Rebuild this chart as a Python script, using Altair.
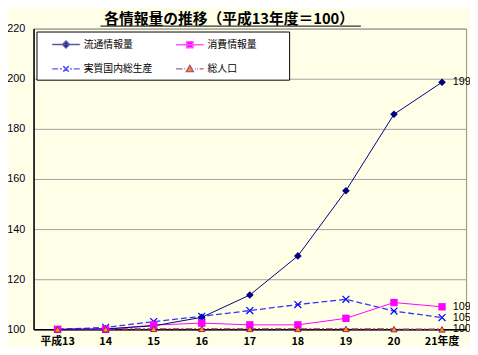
import altair as alt
import pandas as pd

years = ["平成13", "14", "15", "16", "17", "18", "19", "20", "21年度"]
series = ["流通情報量", "消費情報量", "実質国内総生産", "総人口"]
ryutsu = [100, 100.2, 101.4, 104.8, 113.7, 129.3, 155.3, 185.8, 198.6]
shohi = [100, 100, 101.7, 102.5, 101.8, 101.8, 104.4, 110.7, 109.0]
gdp = [100, 100.8, 103.1, 105.2, 107.5, 109.9, 112.0, 107.3, 104.7]
jinko = [100, 100.1, 100.2, 100.2, 100.2, 100.2, 100.2, 100.1, 100.0]
end_labels = ["199", "109", "105", "100"]
y_ticks = [100, 120, 140, 160, 180, 200, 220]
title_text = "各情報量の推移（平成13年度＝100）"

values = [ryutsu, shohi, gdp, jinko]
rows = []
for s, vals in zip(series, values):
    for y, v in zip(years, vals):
        rows.append({"year": y, "series": s, "value": v})
df = pd.DataFrame(rows)
end_df = pd.DataFrame({
    "year": [years[-1]] * len(series),
    "series": series,
    "value": [v[-1] for v in values],
    "label": end_labels,
})

JP = "Noto Sans CJK JP"
LAT = "Liberation Sans"

x_enc = alt.X(
    "year:N", sort=years,
    scale=alt.Scale(type="band", paddingInner=0, paddingOuter=0),
    axis=alt.Axis(title=None, labelAngle=0, tickSize=0, labelPadding=6,
                  labelFont=JP, labelFontSize=11, labelFontWeight="bold",
                  labelColor="black", domainColor="black", domainWidth=1.5,
                  grid=False),
)
y_enc = alt.Y(
    "value:Q",
    scale=alt.Scale(domain=[100, 220], nice=False, zero=False),
    axis=alt.Axis(title=None, values=y_ticks, tickSize=0, labelPadding=9,
                  labelFont=LAT, labelFontSize=11, labelColor="#000022",
                  domainColor="black", domainWidth=1.5,
                  grid=True, gridColor="#A0A0A0", gridWidth=1),
)

line_styles = {
    "流通情報量": dict(stroke="#000080", strokeWidth=1),
    "消費情報量": dict(stroke="#FF00FF", strokeWidth=1),
    "実質国内総生産": dict(stroke="#3333FF", strokeWidth=1.3, strokeDash=[6, 3]),
    "総人口": dict(stroke="#993366", strokeWidth=1.5, strokeDash=[7, 2, 2, 2]),
}
x_path = "M-1,-1L1,1M-1,1L1,-1"
marker_styles = {
    "流通情報量": dict(shape="diamond", filled=True, color="#000080", size=60),
    "実質国内総生産": dict(shape=x_path, filled=False, stroke="#0000FF", strokeWidth=1.2, size=49),
    "消費情報量": dict(shape="square", filled=True, color="#FF00FF", size=56),
    "総人口": dict(shape="triangle-up", filled=True, fill="#FF9900", stroke="#800080",
                 strokeWidth=0.8, size=42),
}

base = alt.Chart(df)
layers = []
for s in ["総人口", "実質国内総生産", "消費情報量", "流通情報量"]:
    layers.append(
        base.transform_filter(alt.datum.series == s)
        .mark_line(**line_styles[s])
        .encode(x=x_enc, y=y_enc)
    )
for s in ["流通情報量", "実質国内総生産", "消費情報量", "総人口"]:
    layers.append(
        base.transform_filter(alt.datum.series == s)
        .mark_point(opacity=1, **marker_styles[s])
        .encode(x=x_enc, y=y_enc)
    )

labels = alt.Chart(end_df).mark_text(
    align="left", baseline="middle", dx=11, font=LAT, fontSize=11, color="black"
).encode(x=x_enc, y=y_enc, text="label:N")
layers.append(labels)


# legend symbols: line segment + marker, as custom paths (unit = 7px)
def seg(a, b):
    return f"M{a:.3f},0L{b:.3f},0"


L0, L1, C = 0.4286, 4.4286, 2.4286
h = 0.5
diamond = f"M{C:.3f},{-h}L{C + h:.3f},0L{C:.3f},{h}L{C - h:.3f},0Z"
square = f"M{C - 0.45:.3f},-0.45L{C + 0.45:.3f},-0.45L{C + 0.45:.3f},0.45L{C - 0.45:.3f},0.45Z"
xmark = f"M{C - 0.4:.3f},-0.4L{C + 0.4:.3f},0.4M{C - 0.4:.3f},0.4L{C + 0.4:.3f},-0.4"
tri = f"M{C:.3f},-0.5L{C + 0.5:.3f},0.4L{C - 0.5:.3f},0.4Z"
leg_paths = {
    "流通情報量": seg(L0, L1) + diamond,
    "消費情報量": seg(L0, L1) + square,
    "実質国内総生産": seg(L0, 1.3) + seg(1.55, 1.85) + xmark + seg(3.0, 3.3) + seg(3.55, L1),
    "総人口": seg(L0, 1.35) + seg(1.6, 1.72) + tri + seg(3.15, 3.27) + seg(3.5, 3.62) + seg(3.85, L1),
}
leg_fills = {"流通情報量": "#000080", "消費情報量": "#FF00FF",
             "実質国内総生産": "#0000FF", "総人口": "#FF9900"}
leg_strokes = {"流通情報量": "#5555AA", "消費情報量": "#FF55FF",
               "実質国内総生産": "#5555FF", "総人口": "#AA5588"}
# legend fills column by column: left column first
leg_order = [series[0], series[2], series[1], series[3]]

leg_props = dict(
    orient="none", legendX=3, legendY=3, columns=2, title=None,
    fillColor="white", strokeColor="black", padding=5,
    symbolSize=196, symbolStrokeWidth=1.5,
    labelFont=JP, labelFontSize=10, labelColor="black",
    labelOffset=27, columnPadding=13, rowPadding=10,
    labelExpr="(datum.value == '消費情報量' || datum.value == '総人口') ? datum.label + '\u2800\u2800\u2800\u2800' : datum.label",
)
legend_layer = alt.Chart(df).transform_filter("false").mark_point(
    filled=True, size=196, strokeWidth=1.5, opacity=1
).encode(
    color=alt.Color("series:N",
                    scale=alt.Scale(domain=leg_order, range=[leg_fills[s] for s in leg_order]),
                    legend=alt.Legend(**leg_props)),
    stroke=alt.Stroke("series:N",
                      scale=alt.Scale(domain=leg_order, range=[leg_strokes[s] for s in leg_order]),
                      legend=alt.Legend(**leg_props)),
    shape=alt.Shape("series:N",
                    scale=alt.Scale(domain=leg_order, range=[leg_paths[s] for s in leg_order]),
                    legend=alt.Legend(**leg_props)),
)
layers.append(legend_layer)

title_mark = alt.Chart(alt.Data(values=[{"t": title_text}])).mark_text(
    font=JP, fontSize=15, fontWeight="bold", color="black",
    align="center", baseline="alphabetic"
).encode(x=alt.value(199), y=alt.value(-5), text="t:N")
layers.append(title_mark)

underline = alt.Chart(alt.Data(values=[{}])).mark_rule(
    stroke="#333333", strokeWidth=1.2
).encode(x=alt.value(68), x2=alt.value(333), y=alt.value(-2.5))
layers.append(underline)

chart = alt.layer(*layers).properties(
    width=440, height=306,
    autosize=alt.AutoSizeParams(type="none"),
    padding={"left": 26, "top": 18, "right": 4, "bottom": 15},
    background="#FFFFE8",
).configure_view(stroke="#909090", strokeWidth=1)

chart.save("out.html", embed_options={"renderer": "svg", "actions": False})
